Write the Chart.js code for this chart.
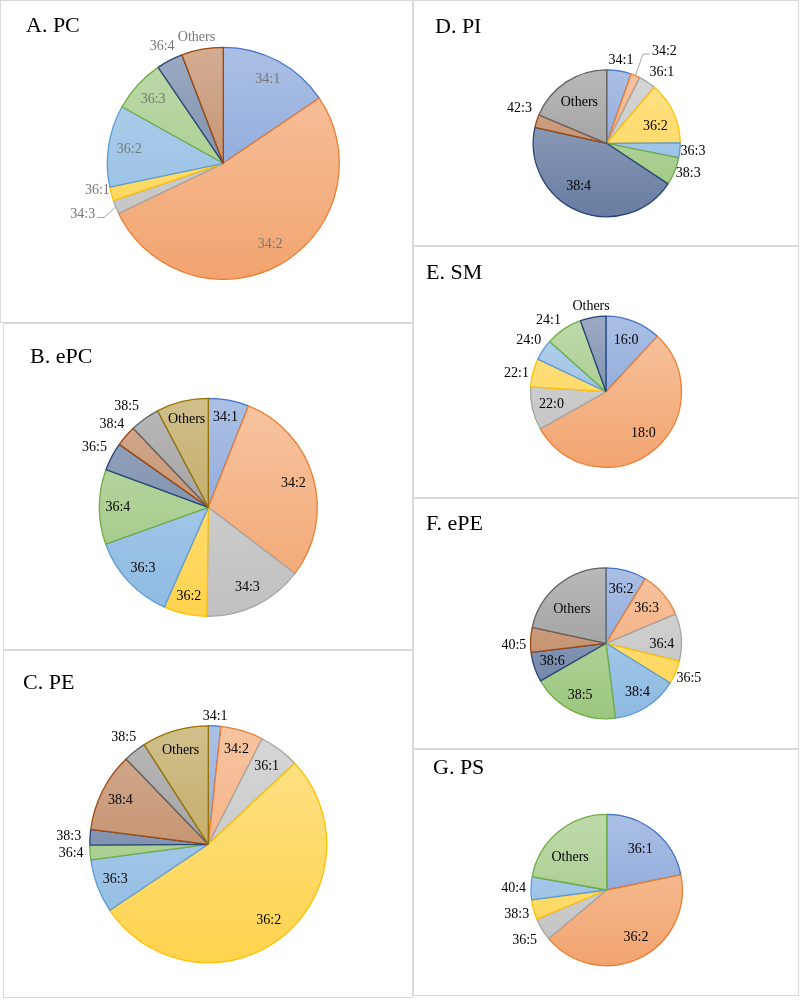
<!DOCTYPE html>
<html>
<head>
<meta charset="utf-8">
<script src="https://cdn.jsdelivr.net/npm/chart.js@4.4.1/dist/chart.umd.min.js"></script>
<style>
  body { margin: 0; background: #fff; }
  #page { position: relative; width: 800px; height: 1000px; overflow: hidden;
          font-family: "Liberation Serif", "Times New Roman", serif; }
  .panel { position: absolute; box-sizing: border-box; border: 1px solid #d9d9d9; }
  .title { position: absolute; font-size: 22px; line-height: 22px; color: #000; white-space: nowrap; }
  canvas { position: absolute; }
</style>
</head>
<body>
<div id="page"></div>
<script>
// shares (%), clockwise from 12 o'clock
const pcLabels = ["34:1", "34:2", "34:3", "36:1", "36:2", "36:3", "36:4", "Others"];
const pcValues = [15.5, 52.4, 1.9, 1.9, 11.4, 7.4, 3.7, 5.8];

const epcLabels = ["34:1", "34:2", "34:3", "36:2", "36:3", "36:4", "36:5", "38:4", "38:5", "Others"];
const epcValues = [6.0, 29.4, 14.8, 6.4, 12.9, 11.1, 4.2, 3.1, 4.4, 7.7];

const peLabels = ["34:1", "34:2", "36:1", "36:2", "36:3", "36:4", "38:3", "38:4", "38:5", "Others"];
const peValues = [1.7, 5.8, 5.5, 52.6, 7.3, 2.0, 2.1, 10.8, 3.1, 9.1];

const piLabels = ["34:1", "34:2", "36:1", "36:2", "36:3", "38:3", "38:4", "42:3", "Others"];
const piValues = [5.4, 2.0, 3.8, 13.7, 3.3, 6.1, 44.2, 2.8, 18.7];

const smLabels = ["16:0", "18:0", "22:0", "22:1", "24:0", "24:1", "Others"];
const smValues = [11.9, 54.9, 9.2, 6.1, 4.5, 7.9, 5.5];

const epeLabels = ["36:2", "36:3", "36:4", "36:5", "38:4", "38:5", "38:6", "40:5", "Others"];
const epeValues = [8.7, 10.0, 10.1, 5.0, 14.2, 18.7, 6.4, 5.3, 21.6];

const psLabels = ["36:1", "36:2", "36:5", "38:3", "40:4", "Others"];
const psValues = [21.8, 42.1, 4.8, 4.2, 4.9, 22.2];

const palette = ["#4472C4", "#ED7D31", "#A5A5A5", "#FFC000", "#5B9BD5",
                 "#70AD47", "#264478", "#9E480E", "#636363", "#997300"];

// label placement: k = fraction of radius on the slice bisector,
// [k, deg] = fixed angle (clockwise from top), third item = leader line
const panels = [
  { title: "A. PC", box: [0, 0, 413, 323], cx: 223.3, cy: 163.3, r: 116, titleAt: [26, 14],
    labels: pcLabels, values: pcValues, color: "#767676",
    place: [0.82, 0.81, [1.29, 250, true], [1.11, 258], 0.82, 0.82, 1.14, [1.11, 348]] },
  { title: "B. ePC", box: [3, 323, 410, 327], cx: 208.3, cy: 507.3, r: 109, titleAt: [30, 345],
    labels: epcLabels, values: epcValues, color: "#000",
    place: [0.84, 0.81, 0.82, 0.84, 0.82, 0.83, 1.18, 1.17, [1.19, 321], 0.83] },
  { title: "C. PE", box: [3, 650, 410, 348], cx: 208.3, cy: 844.3, r: 118.5, titleAt: [23, 671],
    labels: peLabels, values: peValues, color: "#000",
    place: [1.08, 0.835, 0.82, 0.82, 0.84, 1.16, 1.18, 0.83, 1.15, 0.83] },
  { title: "D. PI", box: [413, 0, 386, 246], cx: 606.7, cy: 143.3, r: 73.5, titleAt: [435, 15],
    labels: piLabels, values: piValues, color: "#000",
    place: [1.15, [1.48, 32, true], [1.22, 38], [0.7, 71], 1.18, [1.18, 110], [0.7, 213], [1.28, 292], 0.67] },
  { title: "E. SM", box: [413, 246, 386, 252], cx: 606, cy: 391.7, r: 75.5, titleAt: [426, 261],
    labels: smLabels, values: smValues, color: "#000",
    place: [0.73, [0.74, 138], 0.74, [1.21, 281.6], 1.23, [1.21, 321], 1.15] },
  { title: "F. ePE", box: [413, 498, 386, 251], cx: 606, cy: 643.3, r: 75.5, titleAt: [426, 512],
    labels: epeLabels, values: epeValues, color: "#000",
    place: [0.74, 0.71, [0.74, 91], 1.19, 0.77, 0.77, 0.75, [1.22, 269], [0.64, 315]] },
  { title: "G. PS", box: [413, 749, 386, 247], cx: 606.7, cy: 890, r: 75.7, titleAt: [433, 756],
    labels: psLabels, values: psValues, color: "#000",
    place: [0.7, [0.73, 148], 1.27, 1.23, 1.23, [0.65, 312]] },
];

function lighten(hex, t) {
  const n = parseInt(hex.slice(1), 16);
  const ch = [(n >> 16) & 255, (n >> 8) & 255, n & 255].map((v) => Math.round(v + (255 - v) * t));
  return `rgb(${ch[0]},${ch[1]},${ch[2]})`;
}

const sliceLabels = {
  id: "sliceLabels",
  afterDatasetsDraw(chart, args, opts) {
    const { ctx } = chart;
    const names = chart.data.labels;
    ctx.save();
    ctx.font = '14px "Liberation Serif"';
    ctx.fillStyle = opts.color;
    ctx.textAlign = "center";
    ctx.textBaseline = "middle";
    chart.getDatasetMeta(0).data.forEach((arc, i) => {
      const { x, y, startAngle, endAngle, outerRadius } =
        arc.getProps(["x", "y", "startAngle", "endAngle", "outerRadius"], true);
      const mid = (startAngle + endAngle) / 2;
      const spec = opts.place[i];
      let k = spec, a = mid, leader = false;
      if (Array.isArray(spec)) {
        k = spec[0];
        a = ((spec[1] - 90) * Math.PI) / 180;
        leader = !!spec[2];
      }
      const lx = x + Math.cos(a) * k * outerRadius;
      const ly = y + Math.sin(a) * k * outerRadius;
      ctx.fillText(names[i], lx, ly);
      if (leader) {
        const w = ctx.measureText(names[i]).width;
        const ex = x + Math.cos(mid) * outerRadius;
        const ey = y + Math.sin(mid) * outerRadius;
        const side = lx > x ? -1 : 1;
        const sx = lx + side * (w / 2 + 2);
        ctx.beginPath();
        ctx.moveTo(sx, ly + 3);
        ctx.lineTo(sx + side * 7, ly + 3);
        ctx.lineTo(ex, ey);
        ctx.strokeStyle = "#a6a6a6";
        ctx.lineWidth = 1;
        ctx.stroke();
      }
    });
    ctx.restore();
  },
};

const page = document.getElementById("page");

panels.forEach((p) => {
  const [L, T, W, H] = p.box;

  const div = document.createElement("div");
  div.className = "panel";
  Object.assign(div.style, { left: L + "px", top: T + "px", width: W + "px", height: H + "px" });
  page.appendChild(div);

  const canvas = document.createElement("canvas");
  canvas.width = W;
  canvas.height = H;
  Object.assign(canvas.style, { left: L + "px", top: T + "px" });
  page.appendChild(canvas);

  const t = document.createElement("div");
  t.className = "title";
  t.textContent = p.title;
  Object.assign(t.style, { left: p.titleAt[0] + "px", top: p.titleAt[1] + "px" });
  page.appendChild(t);

  const s = p.r + 2;
  const px = p.cx - L, py = p.cy - T;

  new Chart(canvas, {
    type: "pie",
    plugins: [sliceLabels],
    data: {
      labels: p.labels,
      datasets: [{
        data: p.values,
        backgroundColor: (c) => {
          const base = palette[c.dataIndex % palette.length];
          const area = c.chart.chartArea;
          if (!area) return lighten(base, 0.45);
          const g = c.chart.ctx.createLinearGradient(0, area.top, 0, area.bottom);
          g.addColorStop(0, lighten(base, 0.55));
          g.addColorStop(1, lighten(base, 0.3));
          return g;
        },
        borderColor: p.labels.map((_, i) => palette[i % palette.length]),
        borderWidth: 1.3,
      }],
    },
    options: {
      responsive: false,
      animation: false,
      radius: p.r,
      layout: {
        padding: { left: px - s, right: W - px - s, top: py - s, bottom: H - py - s },
      },
      plugins: {
        legend: { display: false },
        tooltip: { enabled: false },
        sliceLabels: { place: p.place, color: p.color },
      },
    },
  });
});
</script>
</body>
</html>
